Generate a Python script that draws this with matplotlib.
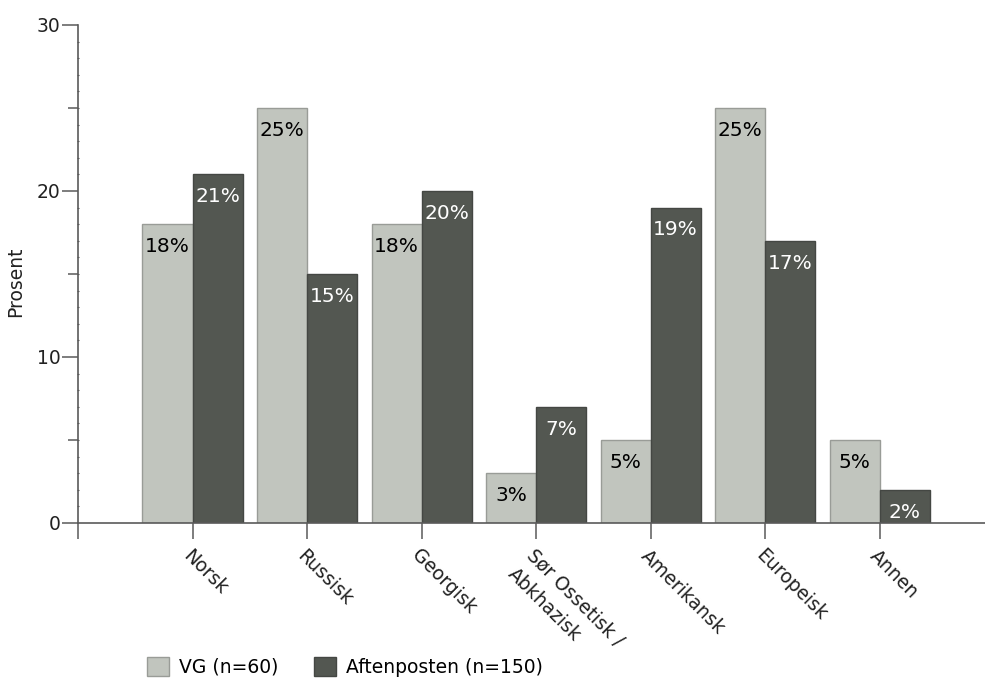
import numpy as np
import matplotlib.pyplot as plt

categories = ["Norsk", "Russisk", "Georgisk", "Sør Ossetisk /\nAbkhazisk",
              "Amerikansk", "Europeisk", "Annen"]
vg = [18, 25, 18, 3, 5, 25, 5]
aftenposten = [21, 15, 20, 7, 19, 17, 2]
series_names = ["VG (n=60)", "Aftenposten (n=150)"]

plt.rcParams['font.family'] = ['DejaVu Sans']
fs = 13.5
light = "#c1c5be"
dark = "#535751"
axis_col = "#5a5a5a"
text_col = "#222222"

fig = plt.figure(figsize=(9.85, 6.78), dpi=100)
ax = fig.add_axes([78 / 985, 1 - 523 / 678, 1 - 78 / 985, 498 / 678])

x = np.arange(len(categories))
w = 0.437
b1 = ax.bar(x - w / 2, vg, w, color=light, edgecolor="#999c97", linewidth=1.0, label=series_names[0])
b2 = ax.bar(x + w / 2, aftenposten, w, color=dark, edgecolor="#444743", linewidth=1.0, label=series_names[1])

for bars, vals, col in [(b1, vg, "black"), (b2, aftenposten, "white")]:
    for rect, v in zip(bars, vals):
        ax.annotate(f"{v}%", (rect.get_x() + rect.get_width() / 2, v),
                    xytext=(0, -16), textcoords="offset points",
                    ha="center", va="center", color=col, fontsize=14.5)

ax.set_xlim(-1, 6.92)
ax.set_ylim(0, 30)

for s in ["top", "right"]:
    ax.spines[s].set_visible(False)
for s in ["left", "bottom"]:
    ax.spines[s].set_color(axis_col)
    ax.spines[s].set_linewidth(1.2)

ax.set_yticks([0, 10, 20, 30])
ax.set_yticks(np.arange(0, 31, 1), minor=True)
ax.tick_params(axis="y", which="major", length=11.5, width=1.1, color=axis_col,
               labelsize=fs, labelcolor=text_col, pad=1)
ax.tick_params(axis="y", which="minor", length=2, width=0.8, color=axis_col, direction="inout")

ax.set_xticks(np.arange(-1, len(categories)))
ax.set_xticklabels([""] + categories)
ax.tick_params(axis="x", which="major", length=11.5, width=1.1, color=axis_col,
               labelsize=fs, labelcolor=text_col, pad=5)
for lab in ax.get_xticklabels():
    lab.set_rotation(-45)
    lab.set_ha("left")
    lab.set_va("top")
    lab.set_rotation_mode("anchor")
    lab.set_multialignment("left")
    lab.set_linespacing(1.45)

# medium ticks at 5, 15, 25
ax2 = ax.twinx()
ax2.set_ylim(0, 30)
ax2.yaxis.tick_left()
ax2.set_yticks([5, 15, 25])
ax2.set_yticklabels([])
ax2.tick_params(axis="y", length=7, width=1.1, color=axis_col)
for s in ax2.spines.values():
    s.set_visible(False)

ax.set_ylabel("Prosent", fontsize=fs, color=text_col)
ax.yaxis.set_label_coords(-0.058, 0.484)

fig.legend(handles=[b1, b2], loc="lower left", bbox_to_anchor=(147 / 985, 0.002),
           ncol=2, frameon=False, fontsize=fs, borderpad=0, borderaxespad=0,
           handlelength=1.17, handleheight=1.17, handletextpad=0.55, columnspacing=1.9)

fig.savefig("out.png", dpi=100)
